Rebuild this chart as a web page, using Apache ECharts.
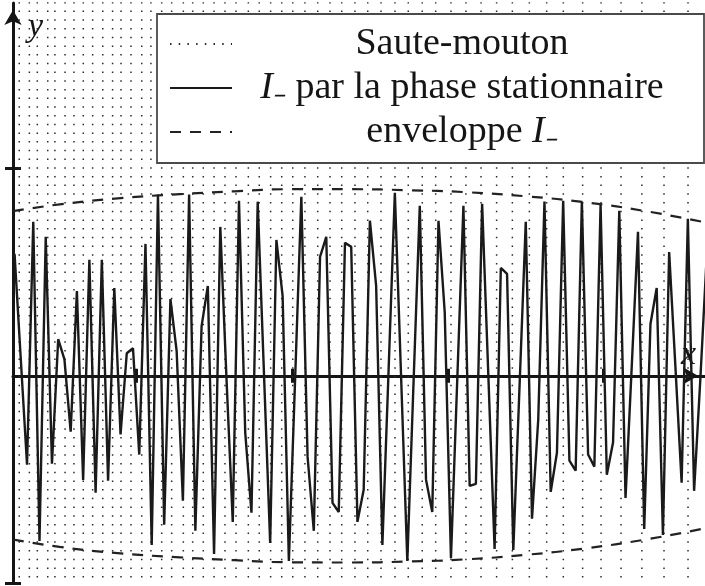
<!DOCTYPE html>
<html>
<head>
<meta charset="utf-8">
<script src="https://cdn.jsdelivr.net/npm/echarts@6/dist/echarts.min.js"></script>
<style>
html, body { margin: 0; padding: 0; background: #fff; }
#main { width: 705px; height: 586px; }
</style>
</head>
<body>
<div id="main"></div>
<script>
// noms des courbes (legende)
var nomSaute = 'Saute-mouton';
var nomPhase = 'I₋ par la phase stationnaire';
var nomEnv = 'enveloppe I₋';

// abscisses des echantillons : depart + pas
var xDepart = 0.22;
var xPas = 0.04;

// I- par la phase stationnaire, un point par echantillon
var valPhase = [
  0.589, 0.080, -0.429, 0.744, -0.797, 0.671, -0.424, 0.177, 0.080, -0.269,
  0.409, -0.502, 0.560, -0.564, 0.560, -0.506, 0.424, -0.283, 0.109, 0.133,
  -0.380, 0.637, -0.816, 0.875, -0.719, 0.371, 0.119, -0.603, 0.875, -0.748,
  0.240, 0.434, -0.860, 0.719, -0.017, -0.705, 0.845, -0.274, -0.661, 0.841,
  0.017, -0.807, 0.656, 0.385, -0.894, -0.017, 0.865, -0.390, -0.748, 0.574,
  0.671, -0.613, -0.657, 0.642, 0.623, -0.705, -0.550, 0.749, 0.434, -0.816,
  0.031, 0.884, -0.002, -0.894, -0.031, 0.821, -0.501, -0.657, 0.749, 0.308,
  -0.880, -0.027, 0.821, -0.531, -0.521, 0.831, -0.002, -0.836, 0.521, 0.492,
  -0.841, -0.051, 0.744, -0.690, -0.211, 0.841, -0.560, -0.371, 0.845, -0.409,
  -0.458, 0.841, -0.380, -0.438, 0.826, -0.477, -0.322, 0.797, -0.589, 0.046,
  0.695, -0.739, 0.250, 0.424, -0.768, 0.598, 0.046, -0.516, 0.758, -0.555,
  -0.017, 0.564
];

// saute-mouton : la solution explose, on ne voit que des traits verticaux
var sauteX = [
  0.250, 0.315, 0.366, 0.433, 0.479, 0.544, 0.601, 0.661, 0.721, 0.786,
  0.849, 0.903, 0.967, 1.036, 1.095, 1.164, 1.228, 1.303, 1.363, 1.431,
  1.500, 1.570, 1.641, 1.720, 1.790, 1.863, 1.934, 2.005, 2.083, 2.165,
  2.244, 2.319, 2.404, 2.486, 2.571, 2.661, 2.746, 2.836, 2.922, 3.020,
  3.116, 3.213, 3.313, 3.414, 3.523, 3.634, 3.741, 3.865, 3.983, 4.111,
  4.245, 4.387, 4.541
];
var sauteBas = -1.1;
var sauteHaut = 1.9;

// enveloppe
var envX = [0.21, 0.51, 0.90, 1.28, 1.63, 1.99, 2.37, 2.76, 3.11, 3.50, 3.88, 4.27, 4.65];
var envHaut = [0.795, 0.828, 0.858, 0.877, 0.891, 0.901, 0.901, 0.896, 0.887, 0.867, 0.838, 0.795, 0.741];
var envBas = [-0.790, -0.826, -0.857, -0.876, -0.890, -0.900, -0.901, -0.896, -0.886, -0.864, -0.833, -0.790, -0.736];

// graduations
var xTicks = [1, 2, 3, 4];
var yTicks = [-1, 1];

var myChart = echarts.init(document.getElementById('main'));

var ptsPhase = [];
for (var i = 0; i < valPhase.length; i++) {
  ptsPhase.push([xDepart + i * xPas, valPhase[i]]);
}
var ptsSaute = [];
for (var i = 0; i < sauteX.length; i++) {
  ptsSaute.push([sauteX[i], sauteBas], [sauteX[i], sauteHaut], [sauteX[i], '-']);
}
var ptsEnvHaut = [], ptsEnvBas = [];
for (var i = 0; i < envX.length; i++) {
  ptsEnvHaut.push([envX[i], envHaut[i]]);
  ptsEnvBas.push([envX[i], envBas[i]]);
}

var noir = '#151515';
var axeStyle = { color: noir, width: 3 };
var police = 'Liberation Serif';

function axeX (dedans) {
  return {
    type: 'value', min: 0.21, max: 4.65, position: 'bottom',
    axisLine: {
      show: !dedans, onZero: true, onZeroAxisIndex: 0,
      symbol: ['none', 'arrow'], symbolSize: [13, 15], symbolOffset: [0, -7],
      lineStyle: axeStyle
    },
    axisTick: { show: true, inside: dedans, length: 7, customValues: xTicks, lineStyle: axeStyle },
    axisLabel: { show: false },
    splitLine: { show: false },
    name: dedans ? '' : 'x',
    nameLocation: 'end',
    nameGap: -24,
    nameTextStyle: { fontFamily: police, fontStyle: 'italic', fontSize: 34, color: noir,
      align: 'left', verticalAlign: 'bottom', lineHeight: 34, padding: [0, 0, 4, 0] }
  };
}
function axeY (dedans) {
  return {
    type: 'value', min: -1, max: 1.8, position: 'left',
    axisLine: {
      show: !dedans, onZero: false,
      symbol: ['none', 'arrow'], symbolSize: [13, 15], symbolOffset: [0, -7],
      lineStyle: axeStyle
    },
    axisTick: { show: true, inside: dedans, length: 8, customValues: yTicks, lineStyle: axeStyle },
    axisLabel: { show: false },
    splitLine: { show: false },
    name: dedans ? '' : 'y',
    nameLocation: 'end',
    nameGap: -7,
    nameTextStyle: { fontFamily: police, fontStyle: 'italic', fontSize: 34, color: noir,
      align: 'left', verticalAlign: 'top', padding: [0, 0, 0, 15] }
  };
}

var option = {
  animation: false,
  backgroundColor: '#fff',
  grid: { left: 13, right: 0, top: 3, bottom: 3, containLabel: false, outerBoundsMode: 'none' },
  xAxis: [axeX(false), axeX(true)],
  yAxis: [axeY(false), axeY(true)],
  legend: {
    data: [nomSaute, nomPhase, nomEnv],
    orient: 'vertical',
    left: 157, top: 14,
    padding: [11, 17, 12, 12],
    itemGap: 6,
    itemWidth: 62, itemHeight: 14,
    backgroundColor: '#fff',
    borderColor: '#4a4a4a', borderWidth: 1.8,
    selectedMode: false,
    itemStyle: { opacity: 0 },
    textStyle: {
      fontFamily: police, fontSize: 38, color: noir, width: 450, lineHeight: 36,
      rich: {
        t: { fontFamily: police, fontSize: 38, color: noir, lineHeight: 36, align: 'center' },
        i: { fontFamily: police, fontSize: 38, color: noir, lineHeight: 36, align: 'center', fontStyle: 'italic' }
      }
    },
    formatter: function (name) {
      if (name == nomPhase) return '{i|I₋}{t| par la phase stationnaire}';
      if (name == nomEnv) return '{t|enveloppe }{i|I₋}';
      return '{t|' + name + '}';
    }
  },
  series: [
    {
      name: nomSaute, type: 'line', data: ptsSaute, symbol: 'none', connectNulls: false,
      lineStyle: { color: '#2a2a2a', width: 1.5, type: [1.5, 7.2] },
      itemStyle: { color: '#2a2a2a' }, z: 1
    },
    {
      name: nomPhase, type: 'line', data: ptsPhase, symbol: 'none',
      lineStyle: { color: '#1a1a1a', width: 2.4 },
      itemStyle: { color: '#1a1a1a' }, z: 3
    },
    {
      name: nomEnv, type: 'line', data: ptsEnvHaut, symbol: 'none', smooth: true,
      lineStyle: { color: '#222', width: 2.2, type: [11, 9] },
      itemStyle: { color: '#222' }, z: 2
    },
    {
      name: nomEnv, type: 'line', data: ptsEnvBas, symbol: 'none', smooth: true,
      lineStyle: { color: '#222', width: 2.2, type: [11, 9] },
      itemStyle: { color: '#222' }, z: 2
    }
  ]
};
myChart.setOption(option);
</script>
</body>
</html>
